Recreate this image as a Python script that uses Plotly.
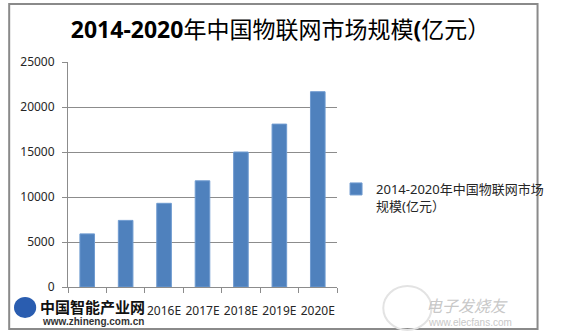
import plotly.graph_objects as go

categories = ["2014", "2015", "2016E", "2017E", "2018E", "2019E", "2020E"]
values = [5900, 7400, 9300, 11800, 15000, 18100, 21700]
series_name = "2014-2020年中国物联网市场<br>规模(亿元）"
title_text = "<b>2014-2020</b>年中国物联网市场规模<b>(</b>亿元）"
y_ticks = [0, 5000, 10000, 15000, 20000, 25000]

FONT = "Noto Sans, Noto Sans CJK SC, sans-serif"
BLUE = "#4F81BD"
GRID = "#8c8c8c"

# plot area in pixels
L, R, T, B = 68, 347, 62, 287
W, H = 561, 336
pw, ph = R - L, B - T


def px(x):
    return (x - L) / pw


def py(y):
    return (B - y) / ph


fig = go.Figure()
fig.add_trace(go.Bar(
    x=categories, y=values, name=series_name,
    marker=dict(color=BLUE, line=dict(color="#6f9bd0", width=1)),
    showlegend=True,
))

fig.update_layout(
    width=W, height=H,
    margin=dict(l=L, r=W - R, t=T, b=H - B),
    paper_bgcolor="white", plot_bgcolor="white",
    font=dict(family=FONT, size=12, color="#262626"),
    bargap=0.62,
    title=dict(text=title_text, x=0.5, xref="container", xanchor="center",
               y=1 - 30 / H, yanchor="middle",
               font=dict(family=FONT, size=23, color="#000000")),
    showlegend=True,
    legend=dict(x=px(346), xanchor="left", y=py(174), yanchor="top",
                valign="top", font=dict(family=FONT, size=13, color="#262626"),
                bgcolor="rgba(0,0,0,0)", itemwidth=30),
    xaxis=dict(type="category", showgrid=False, showline=True, linecolor=GRID,
               linewidth=1, ticks="outside", tickson="boundaries", ticklen=5,
               tickcolor=GRID, tickangle=0, ticklabelstandoff=13,
               tickfont=dict(family=FONT, size=12, color="#262626")),
    yaxis=dict(range=[0, 25000], tickvals=y_ticks, tickformat="d",
               showgrid=True, gridcolor=GRID, ticklabelstandoff=5,
               gridwidth=1, showline=True, linecolor=GRID, ticks="outside",
               ticklen=5, tickcolor=GRID, zeroline=False,
               tickfont=dict(family=FONT, size=12, color="#262626")),
    shapes=[
        dict(type="rect", xref="paper", yref="paper",
             x0=px(7), x1=px(555), y0=py(329), y1=py(4),
             line=dict(color="#8a8a8a", width=2), fillcolor="rgba(0,0,0,0)"),
        dict(type="circle", xref="paper", yref="paper",
             x0=px(395), x1=px(445), y0=py(330), y1=py(286),
             line=dict(color="#e3e3e3", width=2), fillcolor="rgba(0,0,0,0)"),
    ],
    annotations=[
        dict(text="<b>中国智能产业网</b>", xref="paper", yref="paper",
             x=px(37), y=py(306), xanchor="left", yanchor="middle", showarrow=False,
             font=dict(family="Noto Sans CJK SC", size=15, color="#111111"),
             bgcolor="white", borderpad=1),
        dict(text="<b>www.zhineng.com.cn</b>", xref="paper", yref="paper",
             x=px(40), y=py(321), xanchor="left", yanchor="middle", showarrow=False,
             font=dict(family="Liberation Sans", size=10, color="#333333"),
             bgcolor="white", borderpad=0),
        dict(text="<i>电子发烧友</i>", xref="paper", yref="paper",
             x=px(482), y=py(305), xanchor="center", yanchor="middle", showarrow=False,
             font=dict(family="Noto Sans CJK SC", size=16, color="#c8c8c8")),
        dict(text="www.elecfans.com", xref="paper", yref="paper",
             x=px(485), y=py(322), xanchor="center", yanchor="middle", showarrow=False,
             font=dict(family="Liberation Sans", size=10, color="#c8c8c8")),
    ],
)
fig.add_shape(type="circle", xref="paper", yref="paper",
              x0=px(12), x1=px(35), y0=py(318), y1=py(297),
              line=dict(width=0), fillcolor="#2a5db0")

fig.write_html("out.html")
